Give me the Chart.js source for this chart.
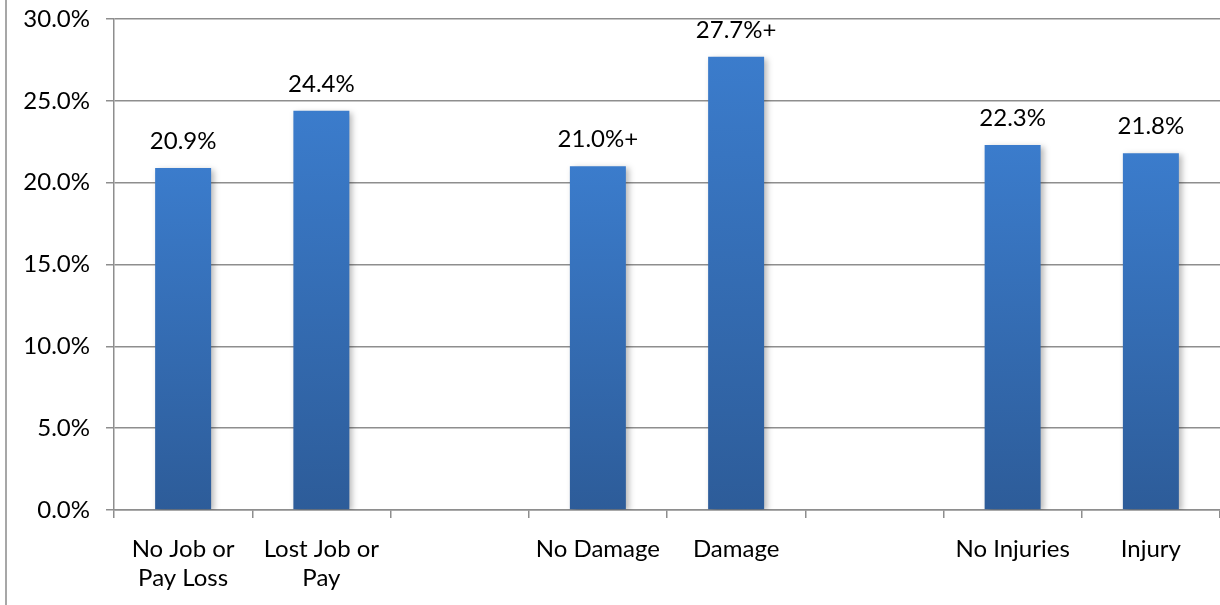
<!DOCTYPE html>
<html>
<head>
<meta charset="utf-8">
<style>
  html, body { margin: 0; padding: 0; background: #fff; }
  #wrap { width: 1220px; height: 605px; }
</style>
<script src="https://cdn.jsdelivr.net/npm/chart.js@4.4.1/dist/chart.umd.min.js"></script>
</head>
<body>
<div id="wrap"><canvas id="chart" width="1220" height="605"></canvas></div>
<script>
// Categories (empty slots separate the three groups)
const categories = [
  ['No Job or', 'Pay Loss'], ['Lost Job or', 'Pay'], '',
  'No Damage', 'Damage', '',
  'No Injuries', 'Injury'
];
// Share per category, in percent (null = spacer slot)
const values  = [20.9, 24.4, null, 21.0, 27.7, null, 22.3, 21.8];
// Marker appended to the label of significant differences
const markers = ['', '', '', '+', '+', '', '', ''];
const yTicks  = [0, 5, 10, 15, 20, 25, 30];

const FONT = 'Lato, "Open Sans", sans-serif';
const FONT_SIZE = 24;
const GRID = '#8e8e8e';

// ── Bar fill: vertical gradient per bar ────────────────────────────────────
function barFill(ctx) {
  const chart = ctx.chart;
  const v = ctx.raw;
  if (!chart.chartArea || v == null) return '#3a78c6';
  const y = chart.scales.y;
  const top = y.getPixelForValue(v);
  const bottom = y.getPixelForValue(0);
  const g = chart.ctx.createLinearGradient(0, top, 0, bottom);
  g.addColorStop(0, '#3b7ccc');
  g.addColorStop(1, '#2d5c99');
  return g;
}

// ── Plugins ────────────────────────────────────────────────────────────────
const frameLine = {
  id: 'frameLine',
  beforeDraw(chart) {
    const c = chart.ctx;
    c.save();
    c.strokeStyle = '#8a8a8a';
    c.lineWidth = 1.5;
    c.beginPath();
    c.moveTo(6, 0);
    c.lineTo(6, chart.height);
    c.stroke();
    c.restore();
  }
};

const barShadow = {
  id: 'barShadow',
  beforeDatasetDraw(chart) {
    const c = chart.ctx;
    c.save();
    c.shadowColor = 'rgba(0,0,0,0.28)';
    c.shadowBlur = 6;
    c.shadowOffsetX = 3;
    c.shadowOffsetY = 2;
  },
  afterDatasetDraw(chart) {
    chart.ctx.restore();
  }
};

const valueLabels = {
  id: 'valueLabels',
  afterDatasetsDraw(chart) {
    const c = chart.ctx;
    const meta = chart.getDatasetMeta(0);
    c.save();
    c.font = FONT_SIZE + 'px ' + FONT;
    c.fillStyle = '#000';
    c.textAlign = 'center';
    c.textBaseline = 'alphabetic';
    meta.data.forEach((bar, i) => {
      if (values[i] == null) return;
      c.fillText(values[i].toFixed(1) + '%' + markers[i], bar.x, bar.y - 19);
    });
    c.restore();
  }
};

// ── Chart ──────────────────────────────────────────────────────────────────
new Chart(document.getElementById('chart'), {
  type: 'bar',
  data: {
    labels: categories,
    datasets: [{
      data: values,
      backgroundColor: barFill,
      borderWidth: 0,
      barPercentage: 0.405,
      categoryPercentage: 1
    }]
  },
  options: {
    responsive: false,
    animation: false,
    layout: { padding: { top: 19, right: 0, bottom: 0, left: 0 } },
    plugins: {
      legend: { display: false },
      tooltip: { enabled: false }
    },
    scales: {
      x: {
        offset: true,
        grid: {
          offset: true,
          drawOnChartArea: false,
          color: GRID,
          lineWidth: 1.5,
          tickLength: 8
        },
        border: { color: GRID, width: 1.5 },
        ticks: {
          autoSkip: false,
          maxRotation: 0,
          color: '#000',
          padding: 17,
          font: { family: FONT, size: FONT_SIZE, lineHeight: 1.2 }
        },
        afterFit: s => { s.height = 95; s.paddingLeft = 0; s.paddingRight = 0; }
      },
      y: {
        min: 0,
        max: 30,
        afterBuildTicks: s => { s.ticks = yTicks.map(v => ({ value: v })); },
        grid: { color: GRID, lineWidth: 1.5, tickLength: 8 },
        border: { color: GRID, width: 1.5 },
        ticks: {
          color: '#000',
          padding: 16,
          font: { family: FONT, size: FONT_SIZE },
          callback: v => v.toFixed(1) + '%'
        },
        afterFit: s => { s.width = 114; s.paddingTop = 0; s.paddingBottom = 0; }
      }
    }
  },
  plugins: [frameLine, barShadow, valueLabels]
});
</script>
</body>
</html>
